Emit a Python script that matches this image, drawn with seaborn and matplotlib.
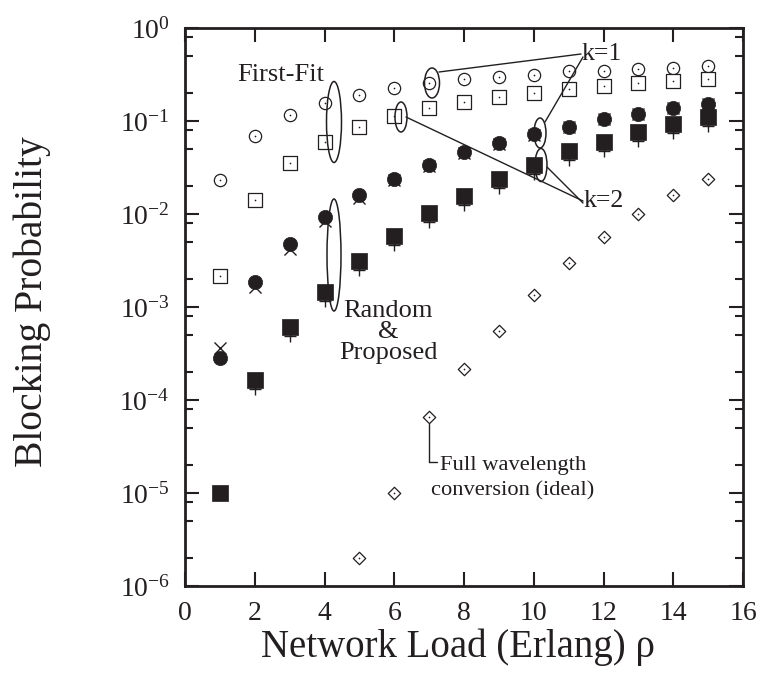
import numpy as np
import matplotlib
matplotlib.use("Agg")
import matplotlib.pyplot as plt
import seaborn as sns
from matplotlib.patches import Ellipse
from matplotlib.lines import Line2D
from matplotlib.ticker import (NullFormatter, NullLocator, FixedLocator,
                               LogFormatterSciNotation)

# ---------------- data ----------------
load = [1, 2, 3, 4, 5, 6, 7, 8, 9, 10, 11, 12, 13, 14, 15]
firstfit_k1 = [0.0232, 0.069, 0.116, 0.155, 0.19, 0.226, 0.257, 0.28, 0.297,
               0.31, 0.342, 0.347, 0.36, 0.37, 0.39]
firstfit_k2 = [0.00217, 0.0141, 0.0354, 0.059, 0.086, 0.113, 0.138, 0.16, 0.18,
               0.2, 0.22, 0.24, 0.257, 0.27, 0.28]
random_k1 = [3.6e-4, 1.65e-3, 4.2e-3, 8.5e-3, 0.015, 0.023, 0.033, 0.045, 0.057,
             0.071, 0.086, 0.104, 0.118, 0.137, 0.151]
proposed_k1 = [2.8e-4, 1.86e-3, 4.7e-3, 9.3e-3, 0.016, 0.024, 0.034, 0.046, 0.058,
               0.072, 0.087, 0.105, 0.119, 0.138, 0.152]
random_k2 = [np.nan, 1.3e-4, 4.9e-4, 1.16e-3, 2.5e-3, 4.6e-3, 8.2e-3, 0.0125, 0.019,
             0.027, 0.038, 0.047, 0.061, 0.075, 0.089]
proposed_k2 = [1e-5, 1.64e-4, 6.1e-4, 1.45e-3, 3.1e-3, 5.8e-3, 0.0102, 0.0156, 0.0236,
               0.034, 0.047, 0.059, 0.076, 0.093, 0.111]
full_load = [5, 6, 7, 8, 9, 10, 11, 12, 13, 14, 15]
full_conv = [2e-6, 1e-5, 6.6e-5, 2.15e-4, 5.5e-4, 1.35e-3, 3e-3, 5.6e-3, 0.01, 0.016, 0.024]

x_ticks = [0, 2, 4, 6, 8, 10, 12, 14, 16]
y_ticks = [1e-6, 1e-5, 1e-4, 1e-3, 1e-2, 1e-1, 1e0]
y_minor_mult = [2, 5, 8]

INK = "#231f20"

sns.set_theme(style="ticks")
plt.rcParams["font.family"] = ["Liberation Serif", "DejaVu Serif"]
plt.rcParams["mathtext.fontset"] = "custom"
plt.rcParams["mathtext.rm"] = "Liberation Serif"
plt.rcParams["mathtext.it"] = "Liberation Serif:italic"
plt.rcParams["mathtext.default"] = "regular"
plt.rcParams["text.color"] = INK
plt.rcParams["axes.labelcolor"] = INK

W, H = 766, 689
L, R, T, B = 185, 743, 28, 586
fig = plt.figure(figsize=(W / 100, H / 100), dpi=100)
ax = fig.add_axes([L / W, 1 - B / H, (R - L) / W, (B - T) / H])
ax.set_yscale("log")

# ---------------- series ----------------
lw = 0.9
# Random (drawn first, beneath proposed)
sns.scatterplot(x=load, y=random_k1, marker="x", s=75, color=INK, linewidth=1.0, ax=ax, zorder=3)
sns.scatterplot(x=load, y=random_k2, marker="+", s=80, color=INK, linewidth=1.0, ax=ax, zorder=3)
# Proposed
sns.scatterplot(x=load, y=proposed_k1, marker="o", s=105, color=INK, edgecolor=INK, linewidth=0.5, ax=ax, zorder=4)
sns.scatterplot(x=load, y=proposed_k2, marker="s", s=120, color=INK, edgecolor=INK, linewidth=0.5, ax=ax, zorder=4)
# First-Fit
sns.scatterplot(x=load, y=firstfit_k1, marker="o", s=78, color="white", edgecolor=INK, linewidth=lw, ax=ax, zorder=4)
sns.scatterplot(x=load, y=firstfit_k2, marker="s", s=100, color="white", edgecolor=INK, linewidth=lw, ax=ax, zorder=4)
# Full wavelength conversion
sns.scatterplot(x=full_load, y=full_conv, marker="D", s=40, color="white", edgecolor=INK, linewidth=lw, ax=ax, zorder=4)
# centre dots of the open markers
for yy, xx in [(firstfit_k1, load), (firstfit_k2, load), (full_conv, full_load)]:
    sns.scatterplot(x=xx, y=yy, marker="o", s=1.5, color=INK, edgecolor=INK, linewidth=0, ax=ax, zorder=5)

if ax.get_legend() is not None:
    ax.get_legend().remove()

# ---------------- axes ----------------
ax.set_xlim(0, 16)
ax.set_ylim(1e-6, 1)
ax.xaxis.set_major_locator(FixedLocator(x_ticks))
ax.xaxis.set_minor_locator(NullLocator())
ax.yaxis.set_major_locator(FixedLocator(y_ticks))
ax.yaxis.set_major_formatter(LogFormatterSciNotation())
minor_y = [m * d for d in y_ticks[:-1] for m in y_minor_mult]
ax.yaxis.set_minor_locator(FixedLocator(minor_y))
ax.yaxis.set_minor_formatter(NullFormatter())
ax.tick_params(which="both", direction="in", top=True, right=True, colors=INK,
               labelsize=20, width=1.5)
ax.tick_params(which="major", length=10, pad=11)
ax.tick_params(which="minor", length=5.5)
for sp in ax.spines.values():
    sp.set_linewidth(2.0)
    sp.set_color(INK)
    sp.set_visible(True)
ax.set_xlabel("")
ax.set_ylabel("")

fig.text(458 / W, 1 - 657 / H, "Network Load (Erlang) ρ", fontsize=28,
         ha="center", va="baseline", color=INK)
fig.text(32 / W, 1 - 302 / H, "Blocking Probability", rotation=90, fontsize=28.5,
         ha="center", va="center", color=INK)


# ---------------- annotations (positions in axes fraction) ----------------
def fr(px, py):
    return ((px - L) / (R - L), 1 - (py - T) / (B - T))


def ell(cx, cy, w, h):
    ax.add_patch(Ellipse(fr(cx, cy), w / (R - L), h / (B - T), transform=ax.transAxes,
                         fill=False, lw=1.1, ec=INK, clip_on=False, zorder=6))


def seg(p1, p2):
    a, b = fr(*p1), fr(*p2)
    ax.add_line(Line2D([a[0], b[0]], [a[1], b[1]], transform=ax.transAxes,
                       lw=1.0, color=INK, clip_on=False, zorder=6))


def txt(px, py, s, size, ha="left", va="center", ls=1.2):
    ax.text(*fr(px, py), s, transform=ax.transAxes, fontsize=size, ha=ha, va=va,
            color=INK, linespacing=ls, zorder=7, multialignment=ha)


txt(237, 75, "First-Fit", 19)
ell(334, 122, 15, 81)

ell(334, 255, 14, 112)
txt(388, 332, "Random\n&\nProposed", 19, ha="center", ls=0.97)

txt(582, 54, "k=1", 18.5)
ell(432, 83, 15, 30)
ell(540, 133, 12, 30)
seg((439, 72), (581, 54))
seg((545, 122), (583, 57))

txt(583, 201, "k=2", 18.5)
ell(401, 117, 12, 30)
ell(541, 165, 12, 33)
seg((406, 117), (583, 201))
seg((547, 167), (583, 203))

seg((429, 424), (429, 462))
seg((429, 462), (437, 462))
txt(513, 478, "Full wavelength\nconversion (ideal)", 16.2, ha="center", ls=1.45)

fig.savefig("out.png", dpi=100)
